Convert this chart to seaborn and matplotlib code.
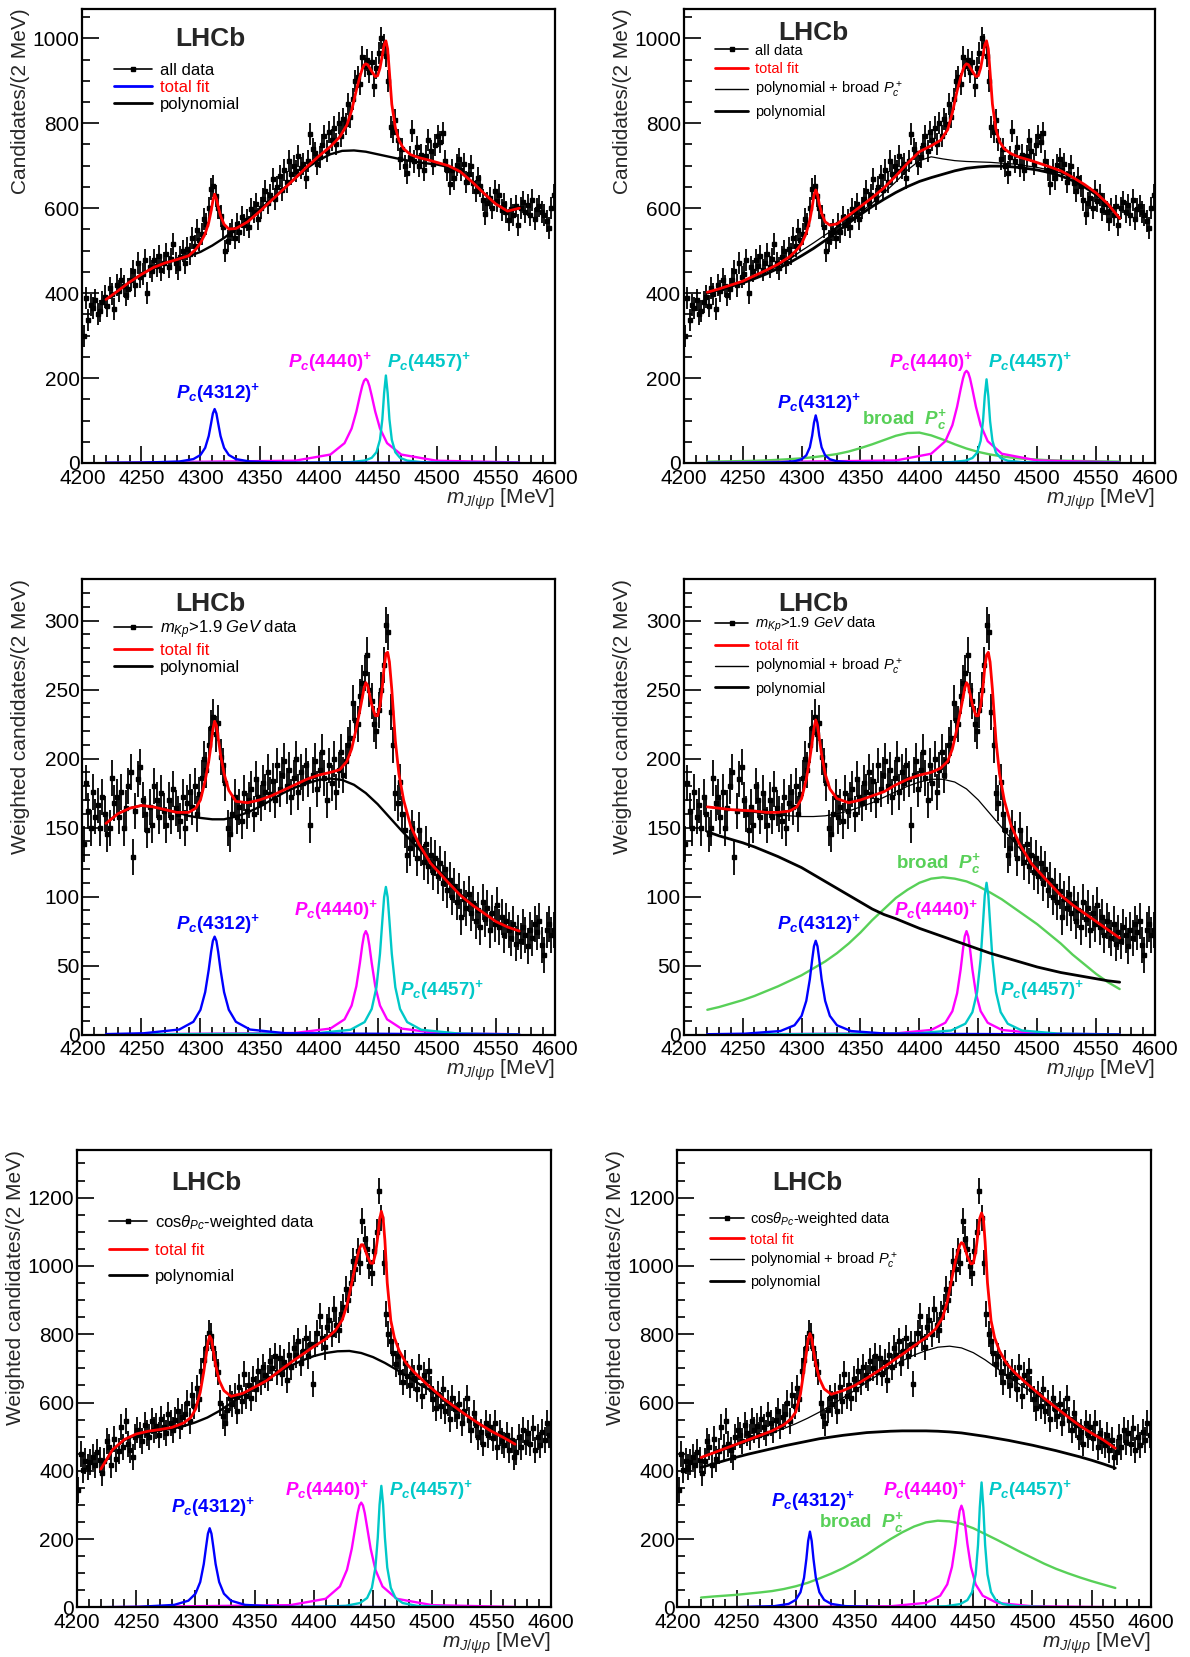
import numpy as np
import matplotlib
matplotlib.use('Agg')
import matplotlib.pyplot as plt
import seaborn as sns
from matplotlib.lines import Line2D
from matplotlib.ticker import MultipleLocator

sns.set_theme(style='ticks')
plt.rcParams['font.family'] = ['Liberation Sans', 'DejaVu Sans']
plt.rcParams['mathtext.fontset'] = 'custom'
plt.rcParams['mathtext.rm'] = 'Liberation Sans'
plt.rcParams['mathtext.it'] = 'Liberation Sans:italic'
plt.rcParams['mathtext.bf'] = 'Liberation Sans:italic:bold'

# ============================================
# DATA
# ============================================

# 2 MeV bins from 4200 to 4600 MeV
BIN_CENTERS = np.arange(4201, 4600, 2)

# all data (top row)
DATA_ALL = [
    300, 388, 336, 372, 366, 384, 350, 358, 380, 392,
    370, 412, 398, 362, 420, 405, 432, 416, 396, 410,
    432, 452, 418, 470, 438, 445, 478, 400, 462, 452,
    478, 465, 488, 455, 470, 492, 462, 480, 516, 470,
    458, 485, 500, 472, 505, 492, 530, 512, 548, 526,
    540, 575, 562, 600, 645, 652, 628, 600, 582, 556,
    500, 522, 540, 548, 530, 562, 545, 580, 560, 572,
    555, 598, 590, 610, 575, 600, 622, 640, 612, 630,
    668, 622, 650, 675, 642, 690, 662, 712, 680, 700,
    688, 722, 695, 705, 672, 712, 775, 740, 730, 705,
    720, 748, 770, 735, 780, 760, 790, 752, 800, 770,
    810, 798, 845, 815, 858, 900, 910, 892, 955, 935,
    950, 920, 945, 888, 930, 965, 1000, 985, 958, 900,
    792, 780, 808, 760, 715, 740, 700, 684, 720, 782,
    710, 745, 700, 725, 690, 722, 760, 735, 705, 748,
    770, 755, 778, 712, 690, 656, 690, 670, 702, 716,
    690, 705, 662, 680, 700, 660, 640, 670, 652, 620,
    586, 612, 625, 600, 640, 618, 632, 596, 610, 590,
    572, 598, 585, 605, 560, 600, 615, 592, 608, 585,
    620, 575, 598, 605, 592, 585, 570, 554, 600, 630,
]
ERR_ALL = 26

# m_Kp > 1.9 GeV data (middle row)
DATA_MKP = [
    138, 182, 162, 150, 176, 158, 166, 150, 172, 160,
    145, 150, 186, 168, 172, 158, 176, 150, 164, 180,
    190, 129, 162, 185, 194, 170, 160, 148, 165, 152,
    180, 170, 158, 175, 162, 152, 170, 158, 178, 164,
    160, 155, 172, 150, 168, 176, 165, 180, 160, 174,
    186, 200, 192, 210, 222, 230, 218, 226, 201, 195,
    182, 150, 145, 160, 172, 158, 165, 155, 175, 162,
    170, 178, 160, 185, 172, 168, 182, 176, 190, 174,
    184, 170, 195, 178, 188, 198, 180, 192, 172, 186,
    200, 176, 190, 182, 195, 185, 152, 188, 198, 178,
    192, 205, 186, 170, 195, 182, 200, 176, 192, 205,
    188, 198, 210, 215, 240, 228, 225, 245, 255, 262,
    275, 250, 242, 225, 220, 235, 250, 268, 297, 292,
    234, 210, 175, 168, 183, 160, 148, 130, 135, 150,
    142, 128, 148, 135, 125, 138, 122, 130, 118, 128,
    115, 124, 110, 120, 105, 112, 100, 108, 96, 104,
    85, 98, 92, 102, 88, 95, 82, 90, 78, 96,
    84, 92, 76, 88, 80, 94, 78, 85, 72, 82,
    76, 70, 80, 66, 74, 68, 78, 72, 64, 76,
    70, 80, 74, 82, 65, 58, 76, 80, 72, 76,
]
ERR_MKP = 13

# cos(theta_Pc)-weighted data (bottom row)
DATA_COS = [
    345, 448, 402, 430, 412, 425, 440, 416, 455, 432,
    395, 430, 488, 470, 418, 492, 435, 458, 527, 470,
    546, 478, 462, 440, 498, 520, 505, 488, 535, 512,
    498, 545, 520, 530, 505, 552, 528, 510, 565, 540,
    520, 548, 575, 532, 558, 565, 598, 545, 622, 590,
    644, 610, 693, 725, 761, 805, 795, 760, 712, 690,
    600, 560, 540, 578, 612, 595, 620, 575, 645, 605,
    683, 620, 650, 612, 670, 640, 692, 660, 705, 680,
    672, 722, 700, 735, 690, 730, 685, 718, 665, 740,
    705, 760, 740, 780, 715, 752, 790, 735, 770, 654,
    770, 805, 854, 790, 762, 820, 842, 800, 875, 828,
    812, 860, 880, 932, 900, 950, 1015, 990, 1045, 1010,
    1132, 1080, 1050, 1000, 978, 1045, 1100, 1220, 1139, 1010,
    859, 800, 780, 745, 712, 735, 690, 660, 715, 678,
    650, 690, 672, 640, 705, 620, 682, 660, 693, 640,
    610, 585, 625, 590, 640, 575, 600, 552, 612, 580,
    560, 595, 540, 575, 612, 548, 520, 570, 535, 500,
    515, 480, 540, 505, 528, 495, 540, 470, 512, 488,
    475, 505, 460, 490, 440, 455, 500, 470, 520, 485,
    510, 480, 525, 462, 498, 475, 515, 490, 540, 505,
]
ERR_COS = 38

# total fit curves
X_FIT = [4220, 4230, 4240, 4250, 4260, 4270, 4280, 4290, 4296, 4300,
         4304, 4307, 4309, 4310.5, 4312, 4313.5, 4315, 4317, 4320, 4324,
         4330, 4340, 4350, 4360, 4370, 4380, 4390, 4400, 4410, 4418,
         4424, 4428, 4432, 4435, 4437, 4438.5, 4440, 4441.5, 4443, 4445,
         4448, 4450, 4452, 4454, 4455.5, 4457, 4458.5, 4460, 4462, 4465,
         4468, 4472, 4478, 4485, 4495, 4510, 4520, 4530, 4540, 4550,
         4560, 4570]
FIT_TL = [385, 405, 426, 444, 460, 471, 479, 488, 503, 518,
          540, 566, 593, 617, 633, 622, 604, 582, 562, 551,
          552, 568, 592, 618, 644, 670, 697, 722, 745, 768,
          796, 830, 878, 910, 928, 937, 940, 938, 932, 922,
          910, 912, 930, 960, 985, 994, 975, 920, 845, 790,
          760, 740, 726, 719, 712, 700, 686, 662, 635, 610,
          593, 600]
FIT_TR = [402, 410, 419, 428, 441, 454, 468, 486, 502, 516,
          542, 572, 603, 630, 643, 632, 610, 588, 568, 560,
          563, 583, 604, 625, 648, 676, 706, 733, 747, 760,
          785, 825, 876, 908, 926, 936, 940, 938, 932, 922,
          910, 912, 930, 960, 985, 994, 975, 920, 845, 785,
          757, 740, 728, 720, 712, 698, 688, 673, 656, 636,
          610, 576]
FIT_ML = [153, 160, 164, 166, 165, 163, 161, 161, 164, 170,
          184, 198, 210, 221, 227, 224, 215, 203, 189, 177,
          169, 168, 170, 173, 177, 181, 185, 188, 190, 192,
          198, 207, 222, 235, 244, 251, 255, 253, 247, 239,
          231, 231, 238, 252, 266, 276, 277, 270, 250, 213,
          189, 170, 151, 138, 124, 110, 101, 94, 88, 82,
          78, 75]
FIT_MR = [165, 164, 163, 162.5, 162, 161, 161, 162, 165, 171,
          185, 200, 212, 222, 228, 224, 215, 203, 189, 178,
          171, 168, 170, 173, 176, 181, 185, 188, 190, 193,
          198, 207, 222, 235, 244, 251, 255, 253, 247, 239,
          231, 231, 238, 252, 266, 275, 277, 270, 250, 213,
          189, 170, 151, 138, 124, 110, 101, 94, 88, 82,
          76, 70]
FIT_BL = [405, 462, 492, 508, 516, 521, 527, 540, 556, 580,
          630, 690, 738, 775, 795, 785, 752, 710, 665, 635,
          618, 627, 645, 664, 690, 716, 740, 764, 786, 810,
          842, 885, 950, 1000, 1030, 1050, 1062, 1062, 1050, 1030,
          1008, 1008, 1035, 1085, 1135, 1160, 1140, 1075, 950, 840,
          790, 752, 715, 688, 655, 610, 585, 560, 537, 516,
          498, 478]
FIT_BR = [439, 452, 465, 478, 491, 504, 517, 535, 552, 572,
          625, 695, 745, 785, 802, 788, 752, 712, 670, 640,
          624, 635, 650, 671, 693, 717, 741, 766, 790, 815,
          848, 895, 965, 1015, 1042, 1060, 1068, 1065, 1050, 1028,
          1006, 1008, 1040, 1095, 1140, 1155, 1140, 1070, 950, 840,
          790, 752, 715, 688, 656, 612, 585, 558, 532, 510,
          490, 466]

# background curves (polynomial, polynomial + broad, broad)
X_BG = [4220, 4230, 4240, 4250, 4260, 4270, 4280, 4290, 4300, 4310,
        4320, 4330, 4340, 4350, 4360, 4370, 4380, 4390, 4400, 4410,
        4420, 4430, 4440, 4450, 4460, 4470, 4480, 4490, 4500, 4510,
        4520, 4530, 4540, 4550, 4560, 4570]
POLY_TL = [385, 405, 426, 444, 460, 471, 479, 487, 497, 512,
           530, 551, 573, 596, 620, 645, 670, 694, 713, 727,
           735, 736, 733, 727, 721, 715, 710, 706, 703, 697,
           685, 662, 635, 610, 593, 600]
THIN_TR = [400, 409, 418, 427, 438, 450, 464, 480, 500, 518,
           537, 555, 570, 590, 612, 636, 662, 690, 712, 721,
           716, 712, 710, 709, 708, 706, 704, 700, 696, 690,
           683, 671, 655, 636, 610, 576]
POLY_TR = [400, 408, 416, 424, 434, 445, 458, 472, 488, 505,
           524, 544, 565, 585, 604, 621, 637, 651, 663, 672,
           680, 688, 694, 697, 699, 699, 697, 694, 690, 684,
           676, 665, 650, 632, 607, 575]
BROAD_TR = [3, 3.5, 4, 4.5, 5, 6, 7.5, 9, 11, 13.5,
            17, 21, 27, 35, 44, 54, 64, 70.5, 71.5, 65,
            55, 44, 34, 26, 20, 15.5, 12, 9.5, 8, 6.5,
            5.5, 5, 4.5, 4, 3.5, 3]
POLY_ML = [153, 160, 164, 166, 165, 163, 161, 158.5, 157, 156,
           156, 158, 161, 165, 170, 175, 179, 182, 184.5, 185.5,
           184.5, 181, 175, 167, 157.5, 148, 139, 130, 121, 111,
           102, 94, 88, 82, 78, 75]
THIN_MR = [165, 164, 163, 162, 161, 160, 159, 158.5, 158, 158,
           158.5, 160, 162, 165, 168, 172, 176, 180, 183, 185,
           185, 183, 178, 170, 160, 150, 140, 130, 120, 111,
           102, 94, 88, 82, 76, 70]
POLY_MR = [147, 144, 141.5, 139, 136, 132.5, 129, 125, 121, 116,
           111, 106, 101, 96, 91, 87, 84, 80.5, 77, 74,
           71, 68, 65, 62, 59, 56.5, 54, 51.5, 49, 47,
           45, 43.5, 42, 40.5, 39, 38]
BROAD_MR = [18, 20, 22.5, 25, 28, 31.5, 35, 39, 43, 48,
            53, 59, 66, 74, 83, 91, 99, 105, 110, 113,
            114, 113, 111, 107.5, 103, 98, 92, 86, 80, 73,
            66, 58, 51, 44, 38, 33]
POLY_BL = [405, 462, 490, 505, 513, 518, 523, 531, 542, 556,
           575, 598, 622, 645, 666, 688, 707, 723, 736, 745,
           750, 751, 745, 733, 716, 696, 674, 652, 633, 609,
           585, 560, 537, 516, 498, 478]
THIN_BR = [439, 451, 463, 475, 487, 499, 511, 524, 538, 554,
           572, 592, 614, 636, 659, 682, 703, 722, 739, 752,
           762, 765, 760, 746, 725, 700, 675, 651, 630, 610,
           587, 562, 537, 513, 490, 466]
POLY_BR = [410, 420, 430, 440, 449, 457, 465, 473, 480, 487,
           494, 499, 504, 508, 512, 514, 516, 517, 517, 517,
           516, 514, 511, 506, 501, 495, 489, 482, 475, 467,
           459, 450, 441, 431, 420, 408]
BROAD_BR = [29, 32, 34.5, 37, 40.5, 44, 48, 54, 62, 72,
            85, 99, 115, 134, 155, 178, 200, 220, 237, 249,
            254, 252, 245, 232, 215, 198, 180, 162, 145, 128,
            113, 100, 88, 77, 67, 57]

# narrow Pc states
X_P4312 = [4220, 4252, 4282, 4294, 4300, 4304, 4307, 4309, 4310.5, 4312,
           4313.5, 4315, 4317, 4320, 4324, 4330, 4342, 4372, 4570]
X_P4440 = [4220, 4380, 4410, 4422, 4428, 4432, 4435, 4437, 4438.5, 4440,
           4441.5, 4443, 4445, 4448, 4452, 4458, 4470, 4500, 4570]
X_P4457 = [4220, 4397, 4427, 4439, 4445, 4449, 4452, 4454, 4455.5, 4457,
           4458.5, 4460, 4462, 4465, 4469, 4475, 4487, 4517, 4570]

P4312_TL = [0.4, 0.9, 3.4, 9.1, 18.8, 35.7, 63.5, 93.3, 116.5, 127, 116.5, 93.3, 63.5, 35.7, 18.8, 9.1, 3.4, 0.9, 0.1]
P4440_TL = [0.4, 5.3, 19.8, 46.7, 81.2, 120.8, 158.4, 181.6, 193.6, 198, 193.6, 181.6, 158.4, 120.8, 81.2, 46.7, 19.8, 5.3, 1.2]
P4457_TL = [0.1, 0.5, 2.0, 5.6, 12.1, 25.3, 54.6, 103, 164.8, 206, 164.8, 103, 54.6, 25.3, 12.1, 5.6, 2.0, 0.5, 0.1]

P4312_TR = [0.2, 0.4, 1.5, 4.1, 8.7, 18.0, 36.8, 64.5, 94.6, 112, 94.6, 64.5, 36.8, 18.0, 8.7, 4.1, 1.5, 0.4, 0.05]
P4440_TR = [0.4, 5.9, 21.7, 51.2, 89.0, 132.4, 173.6, 199.0, 212.2, 217, 212.2, 199.0, 173.6, 132.4, 89.0, 51.2, 21.7, 5.9, 1.3]
P4457_TR = [0.1, 0.5, 2.0, 5.3, 11.6, 24.2, 52.2, 98.5, 157.6, 197, 157.6, 98.5, 52.2, 24.2, 11.6, 5.3, 2.0, 0.5, 0.1]

P4312_ML = [0.4, 1.0, 3.7, 9.3, 18.0, 30.8, 47.0, 60.0, 67.9, 71, 67.9, 60.0, 47.0, 30.8, 18.0, 9.3, 3.7, 1.0, 0.05]
P4440_ML = [0.1, 1.2, 4.4, 11.1, 21.1, 35.1, 51.9, 64.7, 72.2, 75, 72.2, 64.7, 51.9, 35.1, 21.1, 11.1, 4.4, 1.2, 0.25]
P4457_ML = [0.1, 0.9, 3.5, 9.1, 18.6, 34.3, 58.6, 82.5, 99.6, 107, 99.6, 82.5, 58.6, 34.3, 18.6, 9.1, 3.5, 0.9, 0.1]

P4312_MR = [0.3, 0.7, 2.6, 6.8, 13.6, 24.5, 40.1, 54.4, 64.0, 68, 64.0, 54.4, 40.1, 24.5, 13.6, 6.8, 2.6, 0.7, 0.05]
P4440_MR = [0.1, 0.9, 3.4, 8.6, 17.0, 29.9, 47.1, 61.8, 71.2, 75, 71.2, 61.8, 47.1, 29.9, 17.0, 8.6, 3.4, 0.9, 0.2]
P4457_MR = [0.1, 0.8, 3.0, 7.9, 16.3, 30.9, 55.0, 80.9, 100.9, 110, 100.9, 80.9, 55.0, 30.9, 16.3, 7.9, 3.0, 0.8, 0.1]

P4312_BL = [0.8, 1.9, 7.5, 19.8, 40.4, 74.5, 127.1, 178.9, 216.0, 232, 216.0, 178.9, 127.1, 74.5, 40.4, 19.8, 7.5, 1.9, 0.1]
P4440_BL = [0.6, 6.8, 25.4, 61.4, 110.5, 171.6, 234.5, 276.3, 298.7, 307, 298.7, 276.3, 234.5, 171.6, 110.5, 61.4, 25.4, 6.8, 1.5]
P4457_BL = [0.2, 1.2, 4.8, 13.0, 27.8, 57.3, 117.1, 205.1, 300.8, 356, 300.8, 205.1, 117.1, 57.3, 27.8, 13.0, 4.8, 1.2, 0.2]

P4312_BR = [0.4, 1.0, 3.9, 10.4, 22.2, 44.4, 86.6, 142.1, 194.7, 222, 194.7, 142.1, 86.6, 44.4, 22.2, 10.4, 3.9, 1.0, 0.1]
P4440_BR = [0.3, 3.5, 13.4, 34.3, 67.6, 118.6, 187.1, 245.6, 282.8, 298, 282.8, 245.6, 187.1, 118.6, 67.6, 34.3, 13.4, 3.5, 0.8]
P4457_BR = [0.2, 0.9, 3.6, 9.9, 21.5, 45.0, 97.0, 183.0, 292.8, 366, 292.8, 183.0, 97.0, 45.0, 21.5, 9.9, 3.6, 0.9, 0.2]

# ============================================
# STYLE
# ============================================

RED = '#ff0000'
BLUE = '#0000ff'
MAGENTA = '#ff00ff'
CYAN = '#00c8c8'
GREEN = '#58d058'

LABEL_4312 = r'$\mathbf{P}_{\mathbf{c}}$(4312)$^{\mathbf{+}}$'
LABEL_4440 = r'$\mathbf{P}_{\mathbf{c}}$(4440)$^{\mathbf{+}}$'
LABEL_4457 = r'$\mathbf{P}_{\mathbf{c}}$(4457)$^{\mathbf{+}}$'
LABEL_BROAD = r'broad  $\mathbf{P}_{\mathbf{c}}^{\mathbf{+}}$'

fig = plt.figure(figsize=(11.9, 16.57), dpi=100)


def line(ax, x, y, color, lw, z=4):
    sns.lineplot(x=x, y=y, ax=ax, color=color, linewidth=lw,
                 estimator=None, sort=False, legend=False, zorder=z)


def setup_axes(ax, ymax, ymajor, yminor, ylabel):
    ax.set_xlim(4200, 4600)
    ax.set_ylim(0, ymax)
    ax.xaxis.set_major_locator(MultipleLocator(50))
    ax.xaxis.set_minor_locator(MultipleLocator(10))
    ax.yaxis.set_major_locator(MultipleLocator(ymajor))
    ax.yaxis.set_minor_locator(MultipleLocator(yminor))
    ax.tick_params(which='both', direction='in', top=False, right=False,
                   labelsize=15, width=1.2, color='black', labelcolor='black')
    ax.tick_params(which='major', length=12)
    ax.tick_params(which='minor', length=6)
    ax.tick_params(axis='x', pad=4)
    ax.tick_params(axis='y', pad=2)
    for s in ax.spines.values():
        s.set_linewidth(1.6)
        s.set_color('black')
    ax.set_ylabel(ylabel, fontsize=15, loc='top')
    ax.yaxis.set_label_coords(-0.110, 1.0)
    ax.set_xlabel(r'$m_{J/\psi p}$ [MeV]', fontsize=15, loc='right')
    ax.xaxis.set_label_coords(1.0, -0.051)


def add_data(ax, y, err):
    ax.errorbar(BIN_CENTERS, y, yerr=err, fmt='s', color='black', ms=2.6,
                elinewidth=1.3, capsize=0, zorder=3)


def add_legend(ax, labels, handles, colors, x, y, fs, spacing):
    leg = ax.legend(handles, labels, loc='upper left', bbox_to_anchor=(x, y),
                    frameon=False, fontsize=fs, handlelength=2.3,
                    handletextpad=0.45, labelspacing=spacing,
                    borderpad=0, borderaxespad=0)
    for t, c in zip(leg.get_texts(), colors):
        t.set_color(c)


def add_peaks(ax, p4312, p4440, p4457):
    line(ax, X_P4440, p4440, MAGENTA, 1.7, z=2)
    line(ax, X_P4457, p4457, CYAN, 1.7, z=2)
    line(ax, X_P4312, p4312, BLUE, 1.7, z=2)


def pc_text(ax, x, y, s, color):
    ax.text(x, y, s, color=color, fontsize=13.5, fontweight='bold',
            ha='center', va='center')


def lhcb(ax, x, y):
    ax.text(x, y, 'LHCb', transform=ax.transAxes, fontsize=19,
            fontweight='bold', ha='center', va='center')


data_h = Line2D([0], [0], color='black', lw=1.2, marker='s', ms=3)
red_h = Line2D([0], [0], color=RED, lw=2)
blue_h = Line2D([0], [0], color=BLUE, lw=2)
thin_h = Line2D([0], [0], color='black', lw=1)
thick_h = Line2D([0], [0], color='black', lw=2)

# axes rectangles in figure fractions
left_top = [0.0692, 0.7206, 0.3970, 0.2742]
right_top = [0.5746, 0.7206, 0.3960, 0.2742]
left_mid = [0.0692, 0.3756, 0.3970, 0.2749]
right_mid = [0.5746, 0.3756, 0.3960, 0.2749]
left_bot = [0.0648, 0.0299, 0.3979, 0.2762]
right_bot = [0.5692, 0.0299, 0.3979, 0.2762]

# ============================================
# TOP ROW: all data
# ============================================

ax = fig.add_axes(left_top)
setup_axes(ax, 1070, 200, 50, 'Candidates/(2 MeV)')
add_data(ax, DATA_ALL, ERR_ALL)
add_peaks(ax, P4312_TL, P4440_TL, P4457_TL)
line(ax, X_BG, POLY_TL, 'black', 1.7)
line(ax, X_FIT, FIT_TL, RED, 2.0, z=5)
add_legend(ax, ['all data', 'total fit', 'polynomial'],
           [data_h, blue_h, thick_h], ['black', RED, 'black'],
           0.067, 0.880, 12, 0.12)
lhcb(ax, 0.272, 0.933)
pc_text(ax, 4315, 165, LABEL_4312, BLUE)
pc_text(ax, 4410, 237, LABEL_4440, MAGENTA)
pc_text(ax, 4494, 237, LABEL_4457, CYAN)

ax = fig.add_axes(right_top)
setup_axes(ax, 1070, 200, 50, 'Candidates/(2 MeV)')
add_data(ax, DATA_ALL, ERR_ALL)
line(ax, X_BG, BROAD_TR, GREEN, 1.7, z=2)
add_peaks(ax, P4312_TR, P4440_TR, P4457_TR)
line(ax, X_BG, POLY_TR, 'black', 2.0)
line(ax, X_BG, THIN_TR, 'black', 0.9)
line(ax, X_FIT, FIT_TR, RED, 2.0, z=5)
add_legend(ax, ['all data', 'total fit', r'polynomial + broad $P_c^+$', 'polynomial'],
           [data_h, red_h, thin_h, thick_h], ['black', RED, 'black', 'black'],
           0.066, 0.923, 10.5, 0.3)
lhcb(ax, 0.274, 0.946)
pc_text(ax, 4315, 142, LABEL_4312, BLUE)
pc_text(ax, 4387, 102, LABEL_BROAD, GREEN)
pc_text(ax, 4410, 237, LABEL_4440, MAGENTA)
pc_text(ax, 4494, 237, LABEL_4457, CYAN)

# ============================================
# MIDDLE ROW: m_Kp > 1.9 GeV
# ============================================

mkp_label = r'$m_{Kp}$>$\mathit{1.9\ GeV}$ data'

ax = fig.add_axes(left_mid)
setup_axes(ax, 330, 50, 10, 'Weighted candidates/(2 MeV)')
add_data(ax, DATA_MKP, ERR_MKP)
add_peaks(ax, P4312_ML, P4440_ML, P4457_ML)
line(ax, X_BG, POLY_ML, 'black', 1.7)
line(ax, X_FIT, FIT_ML, RED, 2.0, z=5)
add_legend(ax, [mkp_label, 'total fit', 'polynomial'],
           [data_h, red_h, thick_h], ['black', RED, 'black'],
           0.067, 0.914, 12, 0.12)
lhcb(ax, 0.272, 0.945)
pc_text(ax, 4315, 80, LABEL_4312, BLUE)
pc_text(ax, 4415, 90, LABEL_4440, MAGENTA)
pc_text(ax, 4505, 32, LABEL_4457, CYAN)

ax = fig.add_axes(right_mid)
setup_axes(ax, 330, 50, 10, 'Weighted candidates/(2 MeV)')
add_data(ax, DATA_MKP, ERR_MKP)
line(ax, X_BG, BROAD_MR, GREEN, 1.7, z=2)
add_peaks(ax, P4312_MR, P4440_MR, P4457_MR)
line(ax, X_BG, POLY_MR, 'black', 2.0)
line(ax, X_BG, THIN_MR, 'black', 0.9)
line(ax, X_FIT, FIT_MR, RED, 2.0, z=5)
add_legend(ax, [mkp_label, 'total fit', r'polynomial + broad $P_c^+$', 'polynomial'],
           [data_h, red_h, thin_h, thick_h], ['black', RED, 'black', 'black'],
           0.066, 0.921, 10.5, 0.3)
lhcb(ax, 0.274, 0.945)
pc_text(ax, 4315, 80, LABEL_4312, BLUE)
pc_text(ax, 4416, 124, LABEL_BROAD, GREEN)
pc_text(ax, 4414, 90, LABEL_4440, MAGENTA)
pc_text(ax, 4504, 32, LABEL_4457, CYAN)

# ============================================
# BOTTOM ROW: cos(theta_Pc)-weighted
# ============================================

cos_label = r'cos$\theta_{Pc}$-weighted data'

ax = fig.add_axes(left_bot)
setup_axes(ax, 1340, 200, 50, 'Weighted candidates/(2 MeV)')
add_data(ax, DATA_COS, ERR_COS)
add_peaks(ax, P4312_BL, P4440_BL, P4457_BL)
line(ax, X_BG, POLY_BL, 'black', 1.7)
line(ax, X_FIT, FIT_BL, RED, 2.0, z=5)
add_legend(ax, [cos_label, 'total fit', 'polynomial'],
           [data_h, red_h, thick_h], ['black', RED, 'black'],
           0.067, 0.862, 12, 0.65)
lhcb(ax, 0.274, 0.927)
pc_text(ax, 4315, 294, LABEL_4312, BLUE)
pc_text(ax, 4411, 343, LABEL_4440, MAGENTA)
pc_text(ax, 4499, 343, LABEL_4457, CYAN)

ax = fig.add_axes(right_bot)
setup_axes(ax, 1340, 200, 50, 'Weighted candidates/(2 MeV)')
add_data(ax, DATA_COS, ERR_COS)
line(ax, X_BG, BROAD_BR, GREEN, 1.7, z=2)
add_peaks(ax, P4312_BR, P4440_BR, P4457_BR)
line(ax, X_BG, POLY_BR, 'black', 2.0)
line(ax, X_BG, THIN_BR, 'black', 0.9)
line(ax, X_FIT, FIT_BR, RED, 2.0, z=5)
add_legend(ax, [cos_label, 'total fit', r'polynomial + broad $P_c^+$', 'polynomial'],
           [data_h, red_h, thin_h, thick_h], ['black', RED, 'black', 'black'],
           0.069, 0.868, 10.5, 0.3)
lhcb(ax, 0.274, 0.927)
pc_text(ax, 4315, 312, LABEL_4312, BLUE)
pc_text(ax, 4355, 250, LABEL_BROAD, GREEN)
pc_text(ax, 4409, 343, LABEL_4440, MAGENTA)
pc_text(ax, 4498, 343, LABEL_4457, CYAN)

fig.savefig('out.png', dpi=100)
plt.close(fig)
